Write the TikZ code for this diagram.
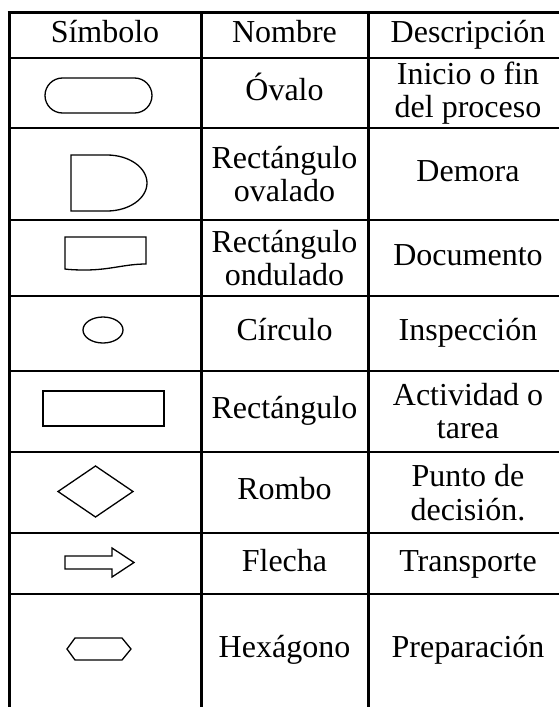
\documentclass[tikz,border=0pt]{standalone}
\usepackage{fontspec}
\setmainfont{Liberation Serif}
\begin{document}
\begin{tikzpicture}[x=1pt,y=-1pt,
  txt/.style={align=center, font=\fontsize{32}{33.5}\selectfont, inner sep=0pt},
  one/.style={text height=22pt, text depth=7pt},
  vline/.style={line width=3pt},
  hline/.style={line width=2.4pt},
  sym/.style={line width=1.3pt, line join=miter}]
\useasboundingbox (0,0) rectangle (559,707);
\clip (0,0) rectangle (559,707);
% table grid
\draw[vline] (9,12.7) -- (9,720);
\draw[vline] (201,12.7) -- (201,720);
\draw[vline] (368,12.7) -- (368,720);
\draw[vline] (7.5,12.7) -- (580,12.7);
\foreach \yy in {57.7,128,220,296,370.7,451.7,533,594}
  \draw[hline] (9,\yy) -- (580,\yy);
% symbols
\draw[sym, rounded corners=17.5pt] (45,78) rectangle (152,113);
\draw[sym] (71,155) -- (107,155) arc[start angle=-90, end angle=90, x radius=40, y radius=28] -- (71,211) -- cycle;
\draw[sym] (65,237) -- (146,237) -- (146,264) .. controls (125,264) and (110,270) .. (85,270) .. controls (75,270) and (68,269.5) .. (65,269) -- cycle;
\draw[sym] (103,330) ellipse[x radius=20, y radius=13];
\draw[sym] (43,391) rectangle (164,426);
\draw[sym] (58,491.5) -- (95.5,466) -- (133,491.5) -- (95.5,517) -- cycle;
\draw[sym] (65,556) -- (112,556) -- (112,548) -- (134,562.5) -- (112,577) -- (112,569) -- (65,569) -- cycle;
\draw[sym] (67,649) -- (75,638) -- (122,638) -- (131,649) -- (122,660) -- (75,660) -- cycle;
% header
\node[txt,one] (h1) at (105,35.2) {Símbolo};
\node[txt,one] (h2) at (284.5,35.2) {Nombre};
\node[txt,one] (h3) at (468,35.2) {Descripción};
% names
\node[txt,one] (n1) at (284.5,92.9) {Óvalo};
\node[txt] (n2) at (284.5,174) {Rectángulo\\ovalado};
\node[txt] (n3) at (284.5,258) {Rectángulo\\ondulado};
\node[txt,one] (n4) at (284.5,333.4) {Círculo};
\node[txt,one] (n5) at (284.5,411.2) {Rectángulo};
\node[txt,one] (n6) at (284.5,492.4) {Rombo};
\node[txt,one] (n7) at (284.5,563.5) {Flecha};
\node[txt,one] (n8) at (284.5,650) {Hexágono};
% descriptions
\node[txt] (d1) at (468,92.9) {Inicio o fin\\del proceso};
\node[txt,one] (d2) at (468,174) {Demora};
\node[txt,one] (d3) at (468,258) {Documento};
\node[txt,one] (d4) at (468,333.4) {Inspección};
\node[txt] (d5) at (468,411.2) {Actividad o\\tarea};
\node[txt] (d6) at (468,492.4) {Punto de\\decisión.};
\node[txt,one] (d7) at (468,563.5) {Transporte};
\node[txt,one] (d8) at (468,650) {Preparación};
\end{tikzpicture}
\end{document}
